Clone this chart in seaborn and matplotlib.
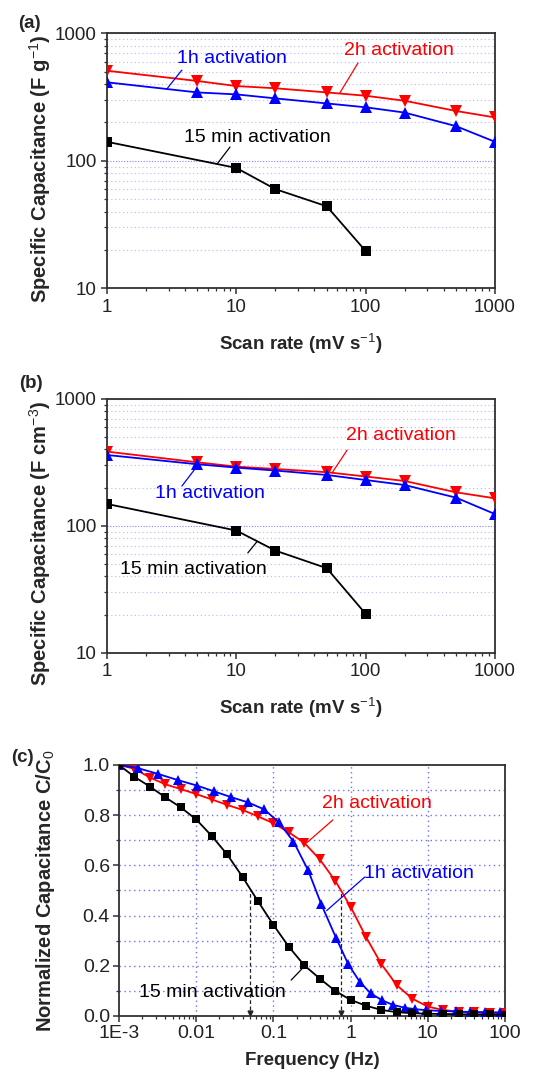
import matplotlib
matplotlib.use("Agg")
import matplotlib.pyplot as plt
import matplotlib.ticker as mticker
import seaborn as sns

# ---------------- data ----------------
# (a) gravimetric capacitance vs scan rate
scan_rate = [1, 5, 10, 20, 50, 100, 200, 500, 1000]
grav_2h = [509, 423, 386, 371, 344, 324, 296, 246, 219]
grav_1h = [413, 344, 332, 309, 282, 263, 239, 187, 141]
scan_rate_15m = [1, 10, 20, 50, 100]
grav_15m = [141, 88, 60, 44, 19.6]

# (b) volumetric capacitance vs scan rate
vol_2h = [385, 317, 293, 281, 265, 245, 226, 184, 165]
vol_1h = [362, 306, 288, 273, 252, 230, 210, 167, 124]
vol_15m = [149, 92, 64, 46.5, 20.3]

# (c) normalized capacitance vs frequency
freq = [0.001, 0.00158, 0.00251, 0.00398, 0.00631, 0.01, 0.0158, 0.0251,
        0.0398, 0.0631, 0.1, 0.158, 0.251, 0.398, 0.631, 1.0, 1.58, 2.51,
        3.98, 6.31, 10, 15.8, 25.1, 39.8, 63.1, 100]
norm_2h = [1.0, 0.985, 0.95, 0.923, 0.904, 0.884, 0.863, 0.841, 0.821, 0.795,
           0.768, 0.732, 0.69, 0.624, 0.539, 0.435, 0.315, 0.206, 0.122, 0.069,
           0.037, 0.024, 0.017, 0.014, 0.013, 0.012]
norm_15m = [1.0, 0.953, 0.914, 0.871, 0.831, 0.783, 0.718, 0.644, 0.554, 0.457,
            0.363, 0.276, 0.202, 0.149, 0.100, 0.064, 0.041, 0.024, 0.015, 0.011,
            0.009, 0.008, 0.007, 0.006, 0.006, 0.005]
freq_1h = [0.001, 0.00178, 0.00324, 0.00575, 0.0102, 0.0170, 0.0282, 0.0468,
           0.0759, 0.117, 0.182, 0.282, 0.417, 0.646, 0.933, 1.32, 1.82, 2.57,
           3.55, 5.01, 6.92, 9.55, 14.8, 22.9, 35.5, 55.0, 85.1]
norm_1h = [1.0, 0.987, 0.964, 0.940, 0.918, 0.895, 0.872, 0.851, 0.823, 0.772,
           0.695, 0.58, 0.445, 0.312, 0.206, 0.135, 0.090, 0.062, 0.044, 0.033,
           0.027, 0.023, 0.020, 0.018, 0.016, 0.015, 0.014]
# frequency at which C/C0 drops to one half (15 min and 2h samples)
half_freq = [0.05, 0.75]
half_level = 0.5

# ---------------- style ----------------
sns.set_theme(style="white")
plt.rcParams["font.family"] = ["Liberation Sans", "DejaVu Sans"]
plt.rcParams["mathtext.fontset"] = "custom"
plt.rcParams["mathtext.rm"] = "Liberation Sans"
plt.rcParams["mathtext.it"] = "Liberation Sans:italic"
plt.rcParams["mathtext.bf"] = "Liberation Sans:bold"

RED = "#ff0000"
BLUE = "#0000ff"
BLACK = "#000000"
GRID = "#7070ff"
SPINE = "#303030"
TICK_FS = 13.5
LABEL_FS = 13.5
YLABEL_FS = 14.5
NOTE_FS = 14

fig = plt.figure(figsize=(5.41, 10.69), dpi=100)
ax_a = fig.add_axes([0.1978, 0.7303, 0.7172, 0.2385])
ax_b = fig.add_axes([0.1978, 0.3892, 0.7172, 0.2376])
ax_c = fig.add_axes([0.2200, 0.0496, 0.7135, 0.2348])


def style_axes(ax, pad=3, labelsize=TICK_FS):
    for s in ax.spines.values():
        s.set_color(SPINE)
        s.set_linewidth(1.3)
    ax.tick_params(which="major", direction="out", length=4.5, width=1.1,
                   color=SPINE, labelsize=labelsize, pad=pad,
                   labelcolor="#222222")
    ax.tick_params(which="minor", direction="out", length=2.5, width=0.9,
                   color=SPINE)
    ax.tick_params(top=False, right=False, bottom=True, left=True, which="both")


def series(ax, x, y, color, marker, ms, z):
    sns.lineplot(x=x, y=y, ax=ax, color=color, marker=marker, markersize=ms,
                 markeredgewidth=0, linewidth=1.3, zorder=z, legend=False)


def note(ax, text, color, text_xy, line_start, line_end):
    ax.text(*text_xy, text, color=color, fontsize=NOTE_FS, ha="center",
            va="center", transform=ax.transAxes, zorder=6)
    ax.annotate("", xy=line_end, xycoords="data", xytext=line_start,
                textcoords="axes fraction",
                arrowprops=dict(arrowstyle="-", color=color, lw=0.9,
                                shrinkA=0, shrinkB=0), zorder=6)


def rate_panel(ax, y2h, y1h, y15, ylabel, ylabel_y):
    series(ax, scan_rate, y2h, RED, "v", 8.5, 3)
    series(ax, scan_rate, y1h, BLUE, "^", 8.5, 4)
    series(ax, scan_rate_15m, y15, BLACK, "s", 7, 5)
    ax.set_xscale("log")
    ax.set_yscale("log")
    ax.set_xlim(1, 1000)
    ax.set_ylim(10, 1000)
    ax.xaxis.set_major_locator(mticker.FixedLocator([1, 10, 100, 1000]))
    ax.xaxis.set_major_formatter(mticker.FixedFormatter(["1", "10", "100", "1000"]))
    ax.yaxis.set_major_locator(mticker.FixedLocator([10, 100, 1000]))
    ax.yaxis.set_major_formatter(mticker.FixedFormatter(["10", "100", "1000"]))
    ax.xaxis.set_minor_locator(mticker.LogLocator(base=10, subs=range(2, 10)))
    ax.yaxis.set_minor_locator(mticker.LogLocator(base=10, subs=range(2, 10)))
    ax.xaxis.set_minor_formatter(mticker.NullFormatter())
    ax.yaxis.set_minor_formatter(mticker.NullFormatter())
    ax.grid(False)
    ax.grid(True, which="major", axis="y", color=GRID, linestyle=(0, (1, 1.5)),
            linewidth=0.8, alpha=0.85)
    ax.grid(True, which="minor", axis="y", color=GRID, linestyle=(0, (1, 2.5)),
            linewidth=0.8, alpha=0.5)
    ax.set_axisbelow(True)
    style_axes(ax)
    ax.set_xlabel("Scan rate (mV s$^{-1}$)", fontsize=LABEL_FS,
                  fontweight="bold")
    ax.set_ylabel(ylabel, fontsize=YLABEL_FS, fontweight="bold")
    ax.xaxis.set_label_coords(0.5, -0.17)
    ax.yaxis.set_label_coords(-0.14, ylabel_y)


# (a)
rate_panel(ax_a, grav_2h, grav_1h, grav_15m,
           "Specific Capacitance (F g$^{-1}$)", 0.47)
note(ax_a, "1h activation", BLUE, (0.322, 0.903), (0.193, 0.856), (2.9, 366))
note(ax_a, "2h activation", RED, (0.753, 0.934), (0.647, 0.884), (63, 340))
note(ax_a, "15 min activation", BLACK, (0.387, 0.593), (0.317, 0.554), (7.1, 94.5))

# (b)
rate_panel(ax_b, vol_2h, vol_1h, vol_15m,
           "Specific Capacitance (F cm$^{-3}$)", 0.43)
note(ax_b, "2h activation", RED, (0.758, 0.858), (0.619, 0.799), (55, 262))
note(ax_b, "1h activation", BLUE, (0.265, 0.626), (0.193, 0.657), (4.8, 282))
note(ax_b, "15 min activation", BLACK, (0.222, 0.327), (0.363, 0.394), (14.4, 75))

# (c)
ax = ax_c
series(ax, freq, norm_2h, RED, "v", 7.2, 3)
series(ax, freq_1h, norm_1h, BLUE, "^", 7.2, 4)
series(ax, freq, norm_15m, BLACK, "s", 6, 5)
ax.set_xscale("log")
ax.set_xlim(1e-3, 100)
ax.set_ylim(0, 1.0)
xt = [1e-3, 1e-2, 1e-1, 1, 10, 100]
ax.xaxis.set_major_locator(mticker.FixedLocator(xt))
ax.xaxis.set_major_formatter(mticker.FixedFormatter(["1E-3", "0.01", "0.1", "1", "10", "100"]))
ax.xaxis.set_minor_locator(mticker.LogLocator(base=10, subs=range(2, 10)))
ax.xaxis.set_minor_formatter(mticker.NullFormatter())
ax.yaxis.set_major_locator(mticker.MultipleLocator(0.2))
ax.yaxis.set_minor_locator(mticker.MultipleLocator(0.1))
ax.yaxis.set_major_formatter(mticker.FormatStrFormatter("%.1f"))
ax.grid(False)
for f in [0.01, 0.1, 1, 10]:
    ax.axvline(f, color=GRID, linestyle=(0, (1, 2.5)), linewidth=1.0, zorder=0.5)
for v in [0.1, 0.2, 0.3, 0.4, 0.5, 0.6, 0.7, 0.8, 0.9]:
    ax.axhline(v, color=GRID, linestyle=(0, (1, 2.5)), linewidth=1.0, zorder=0.5)
ax.vlines(half_freq, 0, half_level, colors="#222222", linestyles=(0, (3, 2)),
          linewidth=0.9, zorder=2)
ax.plot(half_freq, [0.012, 0.012], linestyle="none", marker="v", ms=3.5,
        color="#222222", zorder=2, clip_on=False)
style_axes(ax, pad=2, labelsize=14)
ax.set_xlabel("Frequency (Hz)", fontsize=LABEL_FS, fontweight="bold")
ax.set_ylabel("Normalized Capacitance C/C$_0$", fontsize=YLABEL_FS,
              fontweight="bold")
ax.xaxis.set_label_coords(0.5, -0.143)
ax.yaxis.set_label_coords(-0.16, 0.5)
note(ax, "2h activation", RED, (0.668, 0.845), (0.554, 0.781), (0.27, 0.69))
note(ax, "1h activation", BLUE, (0.777, 0.566), (0.637, 0.554), (0.49, 0.42))
note(ax, "15 min activation", BLACK, (0.242, 0.092), (0.446, 0.143), (0.233, 0.187))

# panel letters
for (px, py), lab in zip([(29, 24), (31, 384), (22, 757)], ["(a)", "(b)", "(c)"]):
    fig.text(px / 541, 1 - py / 1069, lab, fontsize=13.5, fontweight="bold",
             ha="center", va="center")

fig.savefig("out.png", dpi=100)
